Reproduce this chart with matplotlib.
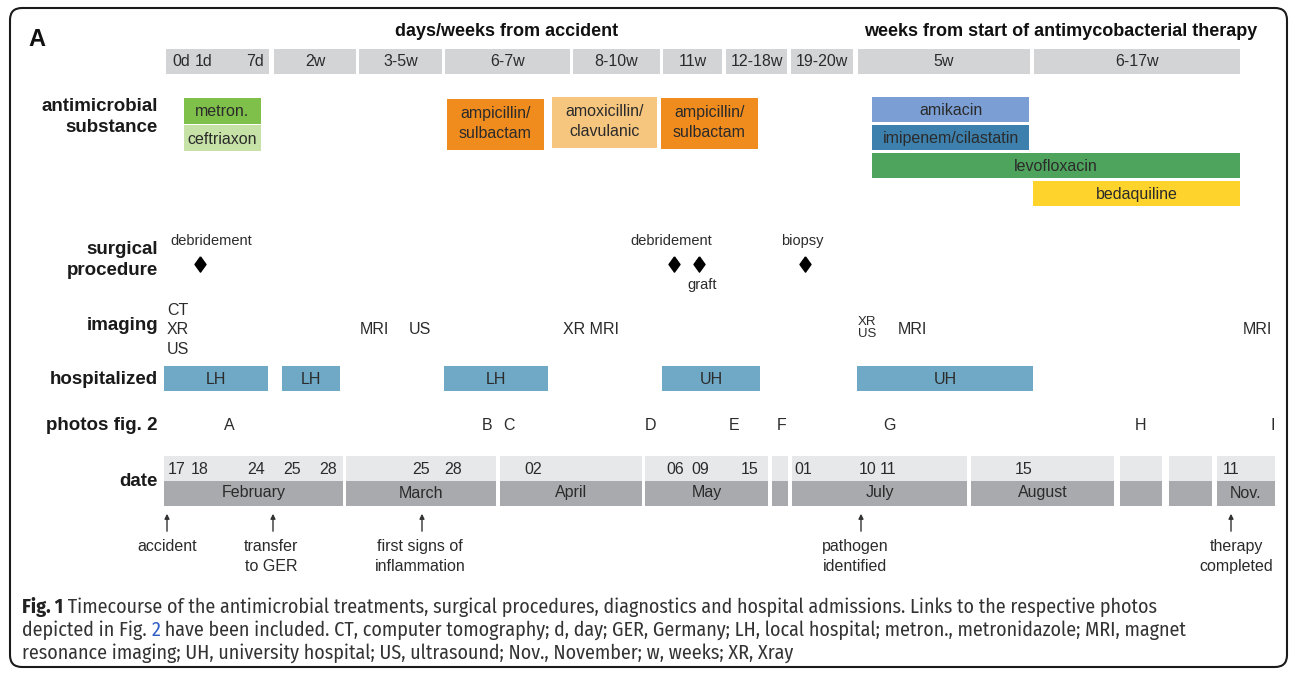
import matplotlib.pyplot as plt
from matplotlib import font_manager as fm
from matplotlib.patches import FancyBboxPatch

plt.rcParams['font.family'] = ['Liberation Sans', 'DejaVu Sans']

# header periods (schematic x positions on the timeline)
period_labels = ['2w', '3-5w', '6-7w', '8-10w', '11w', '12-18w', '19-20w', '5w', '6-17w']
period_start = [274, 359, 445, 573, 663, 726, 791, 858, 1034]
period_end = [356, 442, 570, 660, 722, 787, 853, 1030, 1240]
first_days = ['0d', '1d', '7d']
first_days_x = [181, 204, 255]
first_start, first_end = 166, 269
separators = [166, 268, 277, 343, 445, 547, 662, 762, 857, 1033, 1240]

# antimicrobial substances
drugs = ['metron.', 'ceftriaxon', 'ampicillin/\nsulbactam', 'amoxicillin/\nclavulanic',
         'ampicillin/\nsulbactam', 'amikacin', 'imipenem/cilastatin', 'levofloxacin', 'bedaquiline']
drug_start = [184, 184, 447, 552, 661, 872, 872, 872, 1033]
drug_end = [261, 261, 544, 657, 758, 1029, 1029, 1240, 1240]
drug_top = [98, 125, 99, 97, 98, 97, 125, 153, 181]
drug_bottom = [124, 151, 150, 148, 149, 122, 150, 178, 206]
drug_colors = ['#7fc04a', '#c6e2a6', '#f08c1e', '#f7c67e', '#f08c1e',
               '#7b9fd4', '#3d80ad', '#4fa45d', '#fdd32c']

# surgical procedures
surg_x = [200, 674, 699, 805]
surg_labels = ['debridement', 'debridement', 'graft', 'biopsy']
surg_label_x = [211, 671, 702, 802]
surg_label_pos = ['above', 'above', 'below', 'above']

# imaging
img_labels = ['CT\nXR\nUS', 'MRI', 'US', 'XR MRI', 'XR\nUS', 'MRI', 'MRI']
img_x = [178, 374, 420, 591, 867, 912, 1257]

# hospital stays
hosp_labels = ['LH', 'LH', 'LH', 'UH', 'UH']
hosp_start = [164, 282, 444, 662, 857]
hosp_end = [268, 340, 548, 760, 1033]

# photos fig. 2
photo_labels = ['A', 'B', 'C', 'D', 'E', 'F', 'G', 'H', 'I']
photo_x = [229, 487, 509, 650, 734, 782, 889, 1140, 1273]

# date strip
month_labels = ['February', 'March', 'April', 'May', '', 'July', 'August', '', '', 'Nov.']
month_start = [164, 346, 500, 645, 772, 792, 971, 1120, 1169, 1217]
month_end = [343, 496, 642, 768, 788, 967, 1114, 1162, 1212, 1275]
day_labels = ['17', '18', '24', '25', '28', '25', '28', '02', '06', '09', '15',
              '01', '10', '11', '15', '11']
day_x = [177, 200, 256, 292, 328, 421, 453, 533, 675, 700, 750, 803, 868, 888, 1024, 1231]

# milestones
arrow_labels = ['accident', 'transfer\nto GER', 'first signs of\ninflammation',
                'pathogen\nidentified', 'therapy\ncompleted']
arrow_x = [167, 273, 422, 861, 1231]
arrow_text_x = [167, 271, 420, 855, 1236]

row_labels = ['antimicrobial\nsubstance', 'surgical\nprocedure', 'imaging',
              'hospitalized', 'photos fig. 2', 'date']
row_y = [117, 260, 326, 379, 425, 481]

caption = [
    ('Fig. 1', ' Timecourse of the antimicrobial treatments, surgical procedures, diagnostics '
               'and hospital admissions. Links to the respective photos'),
    ('depicted in Fig. ', '2', ' have been included. CT, computer tomography; d, day; GER, '
                               'Germany; LH, local hospital; metron., metronidazole; MRI, magnet'),
    ('resonance imaging; UH, university hospital; US, ultrasound; Nov., November; '
     'w, weeks; XR, Xray',),
]

txt = '#2b2b2b'
fs = 11.5

available = set(f.name for f in fm.fontManager.ttflist)
cap_font = 'DejaVu Sans'
for cand in ['Fira Sans Condensed', 'Roboto Condensed', 'Liberation Sans Narrow',
             'PT Sans Narrow', 'Archivo Narrow', 'IBM Plex Sans Condensed',
             'Encode Sans Condensed', 'Open Sans Condensed']:
    if cand in available:
        cap_font = cand
        break

fig = plt.figure(figsize=(12.95, 6.74), dpi=100)
ax = fig.add_axes([0, 0, 1, 1])
ax.set_xlim(0, 1295)
ax.set_ylim(674, 0)
ax.axis('off')

# frame
ax.add_patch(FancyBboxPatch((10, 8), 1277, 659, boxstyle='round,pad=0,rounding_size=12',
                            fc='white', ec='#1a1a1a', lw=1.5))

ax.text(28, 39, 'A', fontsize=17, fontweight='bold', va='center', ha='left', color='#111')
ax.text(507, 32, 'days/weeks from accident', fontsize=13, fontweight='bold',
        ha='center', va='center', color='#111')
ax.text(1061, 32, 'weeks from start of antimycobacterial therapy', fontsize=13,
        fontweight='bold', ha='center', va='center', color='#111')

# header boxes
ax.barh(61.5, first_end - first_start, left=first_start, height=25, color='#d3d4d5')
for lab, x in zip(first_days, first_days_x):
    ax.text(x, 62, lab, fontsize=fs, ha='center', va='center', color=txt)
for lab, s, e in zip(period_labels, period_start, period_end):
    ax.barh(61.5, e - s, left=s, height=25, color='#d3d4d5')
    ax.text((s + e) / 2, 62, lab, fontsize=fs, ha='center', va='center', color=txt)

# separators
ax.vlines(separators, 78, 455, color='#e6e6e6', lw=1.2, zorder=0)

# row labels
for lab, y in zip(row_labels, row_y):
    ax.text(158, y, lab, fontsize=13.5, fontweight='bold', ha='right', va='center',
            color='#1a1a1a', linespacing=1.3)

# drugs
for lab, s, e, t, b, c in zip(drugs, drug_start, drug_end, drug_top, drug_bottom, drug_colors):
    ax.barh((t + b) / 2, e - s, left=s, height=b - t, color=c, zorder=2)
    dy = -1 if '\n' in lab else 1
    ax.text((s + e) / 2, (t + b) / 2 + dy, lab, fontsize=fs, ha='center', va='center',
            color=txt, linespacing=1.4, zorder=3)

# surgery
diamond = [(0, 1), (0.72, 0), (0, -1), (-0.72, 0), (0, 1)]
ax.plot(surg_x, [264] * len(surg_x), linestyle='none', marker=diamond, markersize=11,
        color='black', zorder=3)
for lab, x, pos in zip(surg_labels, surg_label_x, surg_label_pos):
    y = 241 if pos == 'above' else 285
    ax.text(x, y, lab, fontsize=10.5, ha='center', va='center', color=txt)

# imaging
for lab, x in zip(img_labels, img_x):
    small = lab == 'XR\nUS'
    ax.text(x, 328 if small else 330, lab, fontsize=9.5 if small else fs, ha='center',
            va='center', color=txt, linespacing=1.05 if small else 1.35)

# hospital
for lab, s, e in zip(hosp_labels, hosp_start, hosp_end):
    ax.barh(378.5, e - s, left=s, height=25, color='#6fa9c6', zorder=2)
    ax.text((s + e) / 2, 379, lab, fontsize=fs, ha='center', va='center', color=txt, zorder=3)

# photos
for lab, x in zip(photo_labels, photo_x):
    ax.text(x, 425, lab, fontsize=fs, ha='center', va='center', color=txt)

# date strip
for lab, s, e in zip(month_labels, month_start, month_end):
    ax.barh(468.5, e - s, left=s, height=25, color='#e7e8e9')
    ax.barh(493.5, e - s, left=s, height=25, color='#a8aaad')
    ax.text((s + e) / 2, 493, lab, fontsize=fs, ha='center', va='center', color=txt)
for lab, x in zip(day_labels, day_x):
    ax.text(x, 469, lab, fontsize=fs, ha='center', va='center', color=txt)

# milestones
for lab, x, tx in zip(arrow_labels, arrow_x, arrow_text_x):
    ax.annotate('', xy=(x, 511), xytext=(x, 534),
                arrowprops=dict(arrowstyle='-|>', lw=1.0, color='#333', mutation_scale=7))
    ax.text(tx, 539, lab, fontsize=fs, ha='center', va='top', color=txt, linespacing=1.45)

# caption, fitted so that the first line ends where the reference's does
renderer = fig.canvas.get_renderer()
probe = ax.text(0, 0, caption[0][0] + caption[0][1], fontsize=13, family=cap_font)
w = probe.get_window_extent(renderer).width
probe.remove()
cap_fs = 13 * 1140 / w
cap_color = '#333333'
for i, parts in enumerate(caption):
    y = 617 + 23 * i
    prev = None
    for j, part in enumerate(parts):
        bold = i == 0 and j == 0
        color = '#2f5fc4' if part == '2' else ('#222' if bold else cap_color)
        kw = dict(fontsize=cap_fs, family=cap_font, ha='left', va='bottom', color=color,
                  fontweight='bold' if bold else 'normal')
        if prev is None:
            prev = ax.text(22, y, part, **kw)
        else:
            prev = ax.annotate(part, xy=(1, 0), xycoords=prev, **kw)

fig.savefig('out.png', dpi=100)
